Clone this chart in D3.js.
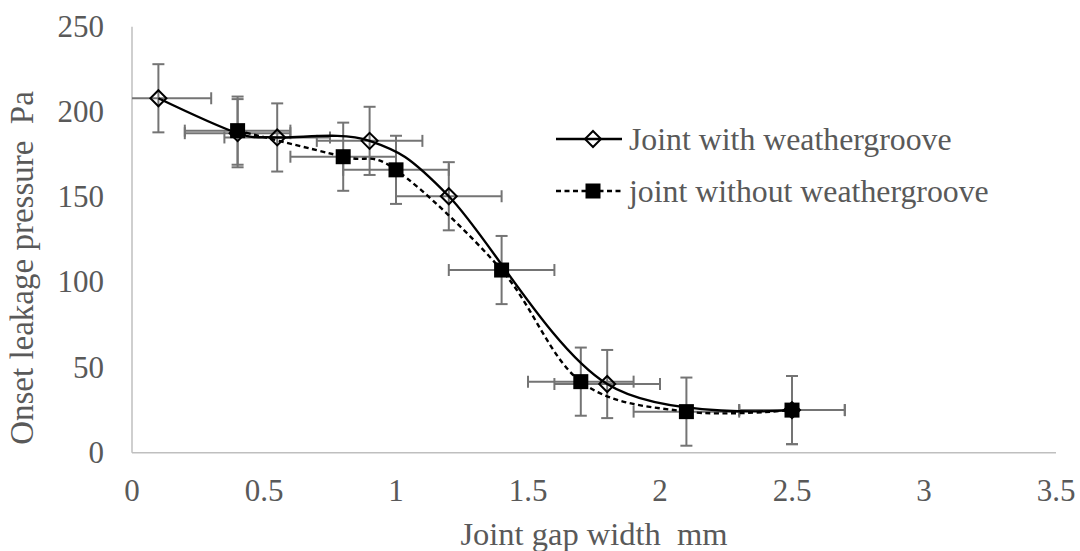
<!DOCTYPE html>
<html>
<head>
<meta charset="utf-8">
<script src="https://cdn.jsdelivr.net/npm/d3@7"></script>
<style>
  html, body { margin: 0; padding: 0; background: #ffffff; }
  svg { display: block; }
  text { font-family: "Liberation Serif", "Times New Roman", serif; fill: #595959; }
</style>
</head>
<body>
<svg id="chart" width="1080" height="551"></svg>
<script>
// Joint with weathergroove (open diamonds, solid smoothed line)
const withGap   = [0.1, 0.4, 0.55, 0.9, 1.2, 1.8, 2.5];
const withP     = [208, 187.5, 185, 183, 150.5, 40.3, 25];
const withXErr  = [0.2, 0.2, 0.2, 0.2, 0.2, 0.2, 0.2];
const withYErr  = [20, 20, 20, 20, 20, 20, 20];

// Joint without weathergroove (filled squares, dashed smoothed line)
const withoutGap  = [0.4, 0.8, 1.0, 1.4, 1.7, 2.1, 2.5];
const withoutP    = [189, 173.7, 166, 107.2, 41.7, 24.1, 25];
const withoutXErr = [0.2, 0.2, 0.2, 0.2, 0.2, 0.2, 0.2];
const withoutYErr = [20, 20, 20, 20, 20, 20, 20];

const xTicks = [0, 0.5, 1, 1.5, 2, 2.5, 3, 3.5];
const yTicks = [0, 50, 100, 150, 200, 250];
const xTickLabels = ["0", "0.5", "1", "1.5", "2", "2.5", "3", "3.5"];
const yTickLabels = ["0", "50", "100", "150", "200", "250"];

const xTitle = "Joint gap width\u00a0\u00a0mm";
const yTitle = "Onset leakage pressure\u00a0\u00a0Pa";
const seriesNames = ["Joint with weathergroove", "joint without weathergroove"];

const svg = d3.select("#chart");

const x = d3.scaleLinear().domain([0, 3.5]).range([132, 1056]);
const y = d3.scaleLinear().domain([0, 250]).range([452.7, 26.7]);

const axisColor = "#bfbfbf";
const errColor = "#747474";

// Axis lines (no tick marks, no gridlines)
svg.append("line")
  .attr("x1", x(0)).attr("x2", x(0))
  .attr("y1", y(250)).attr("y2", y(0))
  .attr("stroke", axisColor).attr("stroke-width", 1.5);
svg.append("line")
  .attr("x1", x(0)).attr("x2", x(3.5))
  .attr("y1", y(0)).attr("y2", y(0))
  .attr("stroke", axisColor).attr("stroke-width", 1.5);

// Tick labels
svg.append("g").selectAll("text")
  .data(xTicks)
  .join("text")
  .attr("x", d => x(d))
  .attr("y", 501)
  .attr("text-anchor", "middle")
  .attr("font-size", 31)
  .text((d, i) => xTickLabels[i]);

svg.append("g").selectAll("text")
  .data(yTicks)
  .join("text")
  .attr("x", 104)
  .attr("y", d => y(d) + 10)
  .attr("text-anchor", "end")
  .attr("font-size", 31)
  .text((d, i) => yTickLabels[i]);

// Axis titles
svg.append("text")
  .attr("x", 594)
  .attr("y", 545)
  .attr("text-anchor", "middle")
  .attr("font-size", 32.5)
  .text(xTitle);

svg.append("text")
  .attr("transform", "translate(33,268) rotate(-90)")
  .attr("text-anchor", "middle")
  .attr("font-size", 33)
  .text(yTitle);

const series = [
  { gap: withGap, p: withP, xe: withXErr, ye: withYErr, dash: null, marker: "diamond" },
  { gap: withoutGap, p: withoutP, xe: withoutXErr, ye: withoutYErr, dash: "5,3.5", marker: "square" }
];

const clampX = v => Math.max(0, Math.min(3.5, v));
const cap = 6;

// Error bars
series.forEach(s => {
  const g = svg.append("g")
    .attr("stroke", errColor)
    .attr("stroke-width", 2)
    .attr("fill", "none");
  s.gap.forEach((gx, i) => {
    const py = s.p[i];
    const x0 = clampX(gx - s.xe[i]), x1 = clampX(gx + s.xe[i]);
    const y0 = py - s.ye[i], y1 = py + s.ye[i];
    // horizontal
    g.append("line").attr("x1", x(x0)).attr("x2", x(x1)).attr("y1", y(py)).attr("y2", y(py));
    if (gx - s.xe[i] >= 0) {
      g.append("line").attr("x1", x(x0)).attr("x2", x(x0)).attr("y1", y(py) - cap).attr("y2", y(py) + cap);
    }
    g.append("line").attr("x1", x(x1)).attr("x2", x(x1)).attr("y1", y(py) - cap).attr("y2", y(py) + cap);
    // vertical
    g.append("line").attr("x1", x(gx)).attr("x2", x(gx)).attr("y1", y(y0)).attr("y2", y(y1));
    g.append("line").attr("x1", x(gx) - cap).attr("x2", x(gx) + cap).attr("y1", y(y0)).attr("y2", y(y0));
    g.append("line").attr("x1", x(gx) - cap).attr("x2", x(gx) + cap).attr("y1", y(y1)).attr("y2", y(y1));
  });
});

// Smoothed lines
const line = d3.line()
  .x(d => x(d[0]))
  .y(d => y(d[1]))
  .curve(d3.curveCardinal.tension(0));

series.forEach(s => {
  const pts = s.gap.map((g, i) => [g, s.p[i]]);
  svg.append("path")
    .datum(pts)
    .attr("d", line)
    .attr("fill", "none")
    .attr("stroke", "#000")
    .attr("stroke-width", 2.4)
    .attr("stroke-dasharray", s.dash);
});

// Markers
const diamondPath = "M0,-8L8,0L0,8L-8,0Z";
function drawMarker(g, type, cx, cy) {
  if (type === "diamond") {
    g.append("path")
      .attr("d", diamondPath)
      .attr("transform", `translate(${cx},${cy})`)
      .attr("fill", "none")
      .attr("stroke", "#000")
      .attr("stroke-width", 2);
  } else {
    g.append("rect")
      .attr("x", cx - 7.5).attr("y", cy - 7.5)
      .attr("width", 15).attr("height", 15)
      .attr("fill", "#000");
  }
}

series.forEach(s => {
  const g = svg.append("g");
  s.gap.forEach((gx, i) => drawMarker(g, s.marker, x(gx), y(s.p[i])));
});

// Legend
const legend = svg.append("g");
const legendRows = [139, 191];
series.forEach((s, i) => {
  const ly = legendRows[i];
  legend.append("line")
    .attr("x1", 556).attr("x2", 622)
    .attr("y1", ly).attr("y2", ly)
    .attr("stroke", "#000")
    .attr("stroke-width", 2.4)
    .attr("stroke-dasharray", s.dash);
  drawMarker(legend, s.marker, 593, ly);
  legend.append("text")
    .attr("x", 629)
    .attr("y", ly + 11)
    .attr("font-size", 31.8)
    .text(seriesNames[i]);
});
</script>
</body>
</html>
